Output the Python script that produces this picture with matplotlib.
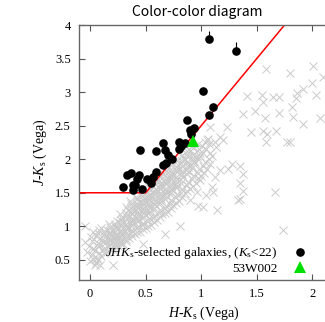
import matplotlib
matplotlib.use("Agg")
import matplotlib.pyplot as plt
from matplotlib.ticker import FormatStrFormatter, MultipleLocator

plt.rcParams["mathtext.fontset"] = "custom"
plt.rcParams["mathtext.rm"] = "Liberation Serif"
plt.rcParams["mathtext.it"] = "Liberation Serif:italic"

# selected galaxies (H-Ks, J-Ks)
gal_hk = [1.07, 1.315, 1.02, 1.105, 1.07, 0.87, 0.935, 0.895, 0.905, 0.80, 0.85,
          0.815, 0.80, 0.66, 0.675, 0.45, 0.59, 0.705, 0.735, 0.68, 0.66, 0.595,
          0.565, 0.515, 0.545, 0.465, 0.385, 0.39, 0.30, 0.42, 0.44, 0.37, 0.33, 0.40]
gal_jk = [3.79, 3.62, 3.01, 2.78, 2.66, 2.58, 2.46, 2.43, 2.37, 2.26, 2.24,
          2.20, 2.15, 2.24, 2.13, 2.14, 2.12, 2.06, 2.01, 1.95, 1.91, 1.81,
          1.74, 1.71, 1.64, 1.55, 1.54, 1.61, 1.59, 1.70, 1.76, 1.80, 1.76, 1.61]
# two upper-limit points (first two above)
lim_hk = [1.07, 1.315]
lim_jk = [3.79, 3.62]
lim_up = [0.12, 0.12]

# 53W002
w002_hk = [0.93]
w002_jk = [2.27]

# selection criterion
crit_hk = [-0.1, 0.5, 1.75]
crit_jk = [1.5, 1.5, 4.0]

# background field objects
field = [
    (-0.05, 0.77), (-0.05, 1.0), (-0.03, 0.62),
    (0.00, 0.48), (0.02, 0.58), (-0.01, 0.70), (0.01, 0.84), (0.03, 0.92), (0.045, 0.42),
    (0.05, 0.45), (0.06, 0.53), (0.04, 0.64), (0.07, 0.75), (0.05, 0.86), (0.08, 0.95),
    (0.10, 0.56), (0.12, 0.64), (0.09, 0.72), (0.11, 0.80), (0.13, 0.88), (0.10, 0.97),
    (0.15, 0.62), (0.17, 0.70), (0.14, 0.77), (0.16, 0.83), (0.18, 0.89), (0.15, 0.95), (0.17, 1.03),
    (0.20, 0.66), (0.22, 0.73), (0.19, 0.79), (0.21, 0.84), (0.23, 0.88), (0.20, 0.93), (0.22, 1.00), (0.24, 1.08),
    (0.25, 0.70), (0.27, 0.77), (0.24, 0.81), (0.26, 0.86), (0.28, 0.91), (0.25, 0.97), (0.27, 1.05), (0.29, 1.13),
    (0.30, 0.74), (0.32, 0.81), (0.29, 0.87), (0.31, 0.93), (0.33, 1.00), (0.30, 1.07), (0.32, 1.15), (0.34, 1.25),
    (0.35, 0.82), (0.37, 0.90), (0.34, 0.98), (0.36, 1.05), (0.38, 1.10), (0.35, 1.16), (0.37, 1.22), (0.39, 1.30), (0.36, 1.38),
    (0.40, 0.88), (0.42, 0.97), (0.39, 1.05), (0.41, 1.12), (0.43, 1.18), (0.40, 1.24), (0.42, 1.30), (0.44, 1.36), (0.41, 1.43),
    (0.45, 0.92), (0.47, 1.02), (0.44, 1.10), (0.46, 1.17), (0.48, 1.24), (0.45, 1.30), (0.47, 1.36), (0.49, 1.42), (0.46, 1.48),
    (0.50, 0.98), (0.52, 1.08), (0.49, 1.17), (0.51, 1.24), (0.53, 1.30), (0.50, 1.36), (0.52, 1.42), (0.54, 1.48), (0.51, 1.53),
    (0.55, 1.02), (0.57, 1.12), (0.54, 1.22), (0.56, 1.30), (0.58, 1.37), (0.55, 1.44), (0.57, 1.50), (0.59, 1.56), (0.56, 1.62),
    (0.60, 1.10), (0.62, 1.20), (0.59, 1.30), (0.61, 1.38), (0.63, 1.45), (0.60, 1.52), (0.62, 1.58), (0.64, 1.64), (0.61, 1.70),
    (0.65, 1.18), (0.67, 1.28), (0.64, 1.38), (0.66, 1.46), (0.68, 1.53), (0.65, 1.60), (0.67, 1.66), (0.69, 1.72), (0.66, 1.80),
    (0.70, 1.22), (0.72, 1.34), (0.69, 1.44), (0.71, 1.52), (0.73, 1.60), (0.70, 1.67), (0.72, 1.74), (0.74, 1.80), (0.71, 1.88),
    (0.75, 1.32), (0.77, 1.44), (0.74, 1.54), (0.76, 1.62), (0.78, 1.70), (0.75, 1.77), (0.77, 1.84), (0.79, 1.92),
    (0.80, 1.38), (0.82, 1.50), (0.79, 1.60), (0.81, 1.70), (0.83, 1.78), (0.80, 1.86), (0.82, 1.94), (0.84, 2.02),
    (0.85, 1.50), (0.87, 1.62), (0.84, 1.74), (0.86, 1.84), (0.88, 1.92), (0.85, 2.00), (0.87, 2.08), (0.89, 2.15),
    (0.90, 1.55), (0.92, 1.70), (0.89, 1.82), (0.91, 1.92), (0.93, 2.02), (0.90, 2.12), (0.92, 2.20),
    (0.95, 1.65), (0.97, 1.80), (0.94, 1.95), (0.96, 2.05), (0.98, 2.15),
    (1.00, 1.75), (1.02, 1.90), (0.99, 2.05), (1.01, 2.20),
    (1.05, 1.85), (1.07, 2.00), (1.04, 2.15), (1.06, 2.30),
    (1.10, 2.05), (1.12, 2.25),
    # in-between objects of the dense band
    (0.025, 0.52), (0.03, 0.66), (0.02, 0.78),
    (0.075, 0.50), (0.08, 0.60), (0.07, 0.70), (0.085, 0.82), (0.075, 0.90),
    (0.125, 0.60), (0.13, 0.68), (0.12, 0.76), (0.135, 0.84), (0.125, 0.93),
    (0.175, 0.66), (0.18, 0.74), (0.17, 0.80), (0.185, 0.86), (0.175, 0.92), (0.18, 0.99),
    (0.225, 0.69), (0.23, 0.76), (0.22, 0.82), (0.235, 0.86), (0.225, 0.91), (0.23, 0.97), (0.225, 1.04),
    (0.275, 0.73), (0.28, 0.80), (0.27, 0.84), (0.285, 0.89), (0.275, 0.95), (0.28, 1.01), (0.275, 1.09), (0.27, 1.18),
    (0.325, 0.78), (0.33, 0.85), (0.32, 0.90), (0.335, 0.97), (0.325, 1.04), (0.33, 1.11), (0.325, 1.20), (0.32, 1.29),
    (0.375, 0.85), (0.38, 0.94), (0.37, 1.01), (0.385, 1.08), (0.375, 1.13), (0.38, 1.19), (0.375, 1.26), (0.37, 1.34),
    (0.425, 0.92), (0.43, 1.01), (0.42, 1.08), (0.435, 1.15), (0.425, 1.21), (0.43, 1.27), (0.425, 1.33), (0.42, 1.40),
    (0.475, 0.96), (0.48, 1.05), (0.47, 1.13), (0.485, 1.20), (0.475, 1.27), (0.48, 1.33), (0.475, 1.39), (0.47, 1.45),
    (0.525, 1.00), (0.53, 1.12), (0.52, 1.20), (0.535, 1.27), (0.525, 1.33), (0.53, 1.39), (0.525, 1.45), (0.52, 1.51), (0.53, 1.57),
    (0.575, 1.06), (0.58, 1.17), (0.57, 1.26), (0.585, 1.33), (0.575, 1.40), (0.58, 1.47), (0.575, 1.53), (0.57, 1.59), (0.58, 1.65),
    (0.625, 1.14), (0.63, 1.25), (0.62, 1.34), (0.635, 1.41), (0.625, 1.48), (0.63, 1.55), (0.625, 1.61), (0.62, 1.67), (0.63, 1.73),
    (0.675, 1.20), (0.68, 1.31), (0.67, 1.41), (0.685, 1.49), (0.675, 1.56), (0.68, 1.63), (0.675, 1.69), (0.67, 1.76), (0.68, 1.83),
    (0.725, 1.27), (0.73, 1.39), (0.72, 1.48), (0.735, 1.56), (0.725, 1.63), (0.73, 1.70), (0.725, 1.77), (0.72, 1.84), (0.73, 1.92),
    (0.775, 1.35), (0.78, 1.48), (0.77, 1.58), (0.785, 1.66), (0.775, 1.73), (0.78, 1.81), (0.775, 1.88), (0.78, 1.97),
    (0.825, 1.44), (0.83, 1.56), (0.82, 1.65), (0.835, 1.74), (0.825, 1.82), (0.83, 1.90), (0.825, 1.98), (0.83, 2.06),
    (0.875, 1.52), (0.88, 1.66), (0.87, 1.78), (0.885, 1.88), (0.875, 1.96), (0.88, 2.04), (0.875, 2.12),
    (0.925, 1.60), (0.93, 1.75), (0.92, 1.87), (0.935, 1.97), (0.925, 2.07), (0.93, 2.16),
    (0.975, 1.72), (0.98, 1.86), (0.97, 2.00), (0.985, 2.10), (0.975, 2.22),
    (1.025, 1.80), (1.03, 1.96), (1.02, 2.10), (1.03, 2.25),
    (1.075, 1.93), (1.08, 2.10), (1.07, 2.22),
    # scattered objects
    (1.58, 3.35), (1.80, 3.29), (2.01, 3.39), (2.10, 3.22), (2.00, 3.14), (1.41, 2.94),
    (1.55, 2.96), (1.56, 2.86), (1.65, 2.92), (1.70, 2.92), (1.86, 2.98), (1.92, 3.04),
    (2.03, 2.96), (1.85, 2.91), (1.82, 2.78), (1.38, 2.68), (1.48, 2.72), (1.57, 2.62),
    (1.70, 2.69), (1.83, 2.63), (1.92, 2.53), (2.07, 2.61), (1.45, 2.40), (1.555, 2.42),
    (1.59, 2.38), (1.675, 2.42), (1.58, 2.26), (1.77, 2.26), (1.80, 2.26), (1.23, 2.48),
    (1.20, 2.28), (1.08, 2.48), (1.17, 2.33), (1.13, 2.18), (1.05, 2.28),
    (1.28, 1.93), (1.35, 1.90), (1.375, 1.78), (1.24, 1.85), (1.17, 1.84), (1.35, 1.64),
    (1.38, 1.53), (1.345, 1.40), (1.66, 1.51), (1.14, 1.24), (1.74, 0.94), (1.10, 1.59),
    (1.11, 1.51), (0.96, 1.51), (1.04, 1.46), (0.975, 1.31), (1.125, 1.74), (0.99, 1.69),
    (1.33, 1.39), (0.90, 1.39), (1.02, 1.29), (0.81, 1.01), (0.675, 0.89), (0.48, 0.74),
    (0.21, 0.42), (0.09, 0.42),
]
field_hk = [p[0] for p in field]
field_jk = [p[1] for p in field]

fig = plt.figure(figsize=(3.25, 3.22), dpi=100)
ax = fig.add_axes([79 / 325, 42 / 322, 250 / 325, 255 / 322])

ax.plot(field_hk, field_jk, "x", color="#cacaca", ms=5.2, mew=0.7, zorder=1)
ax.plot(crit_hk, crit_jk, color="red", lw=1.1, zorder=2)
ax.errorbar(lim_hk, lim_jk, yerr=[[0, 0], lim_up], fmt="none", ecolor="black", elinewidth=0.8, zorder=3)
ax.plot(gal_hk, gal_jk, "o", color="black", ms=6.2, mew=0, ls="none", zorder=4,
        label=r"$JHK_{\rm s}$-selected galaxies, ($K_{\rm s}$<22)")
ax.plot(w002_hk, w002_jk, "^", color="#00e000", ms=8.8, mew=0, ls="none", zorder=5, label="53W002")

ax.set_xlim(-0.1, 2.15)
ax.set_ylim(0.2, 4.0)
ax.xaxis.set_major_locator(MultipleLocator(0.5))
ax.yaxis.set_major_locator(MultipleLocator(0.5))
ax.xaxis.set_major_formatter(FormatStrFormatter("%g"))
ax.yaxis.set_major_formatter(FormatStrFormatter("%g"))
ax.tick_params(direction="in", top=True, length=4, width=0.8, color="#555555",
               labelsize=9, pad=6)
for lab in ax.get_xticklabels() + ax.get_yticklabels():
    lab.set_fontfamily("Liberation Serif")
for s in ax.spines.values():
    s.set_color("#666666")
    s.set_linewidth(1.0)

ax.set_xlabel(r"$H$-$K_{\rm s}$ (Vega)", fontsize=10, family="Liberation Serif", labelpad=3)
ax.set_ylabel(r"$J$-$K_{\rm s}$ (Vega)", fontsize=10, family="Liberation Serif", labelpad=4)
fig.text(197.5 / 325, 1 - 12 / 322, "Color-color diagram", ha="center", va="center",
         fontsize=10, family="Noto Sans CJK JP")

ax.legend(loc="lower right", bbox_to_anchor=(0.91, 0.02), frameon=False, markerfirst=False,
          prop={"family": "Liberation Serif", "size": 9.5}, handlelength=1.0,
          handletextpad=1.2, labelspacing=0.1, borderpad=0, borderaxespad=0)

fig.savefig("out.png", dpi=100)
